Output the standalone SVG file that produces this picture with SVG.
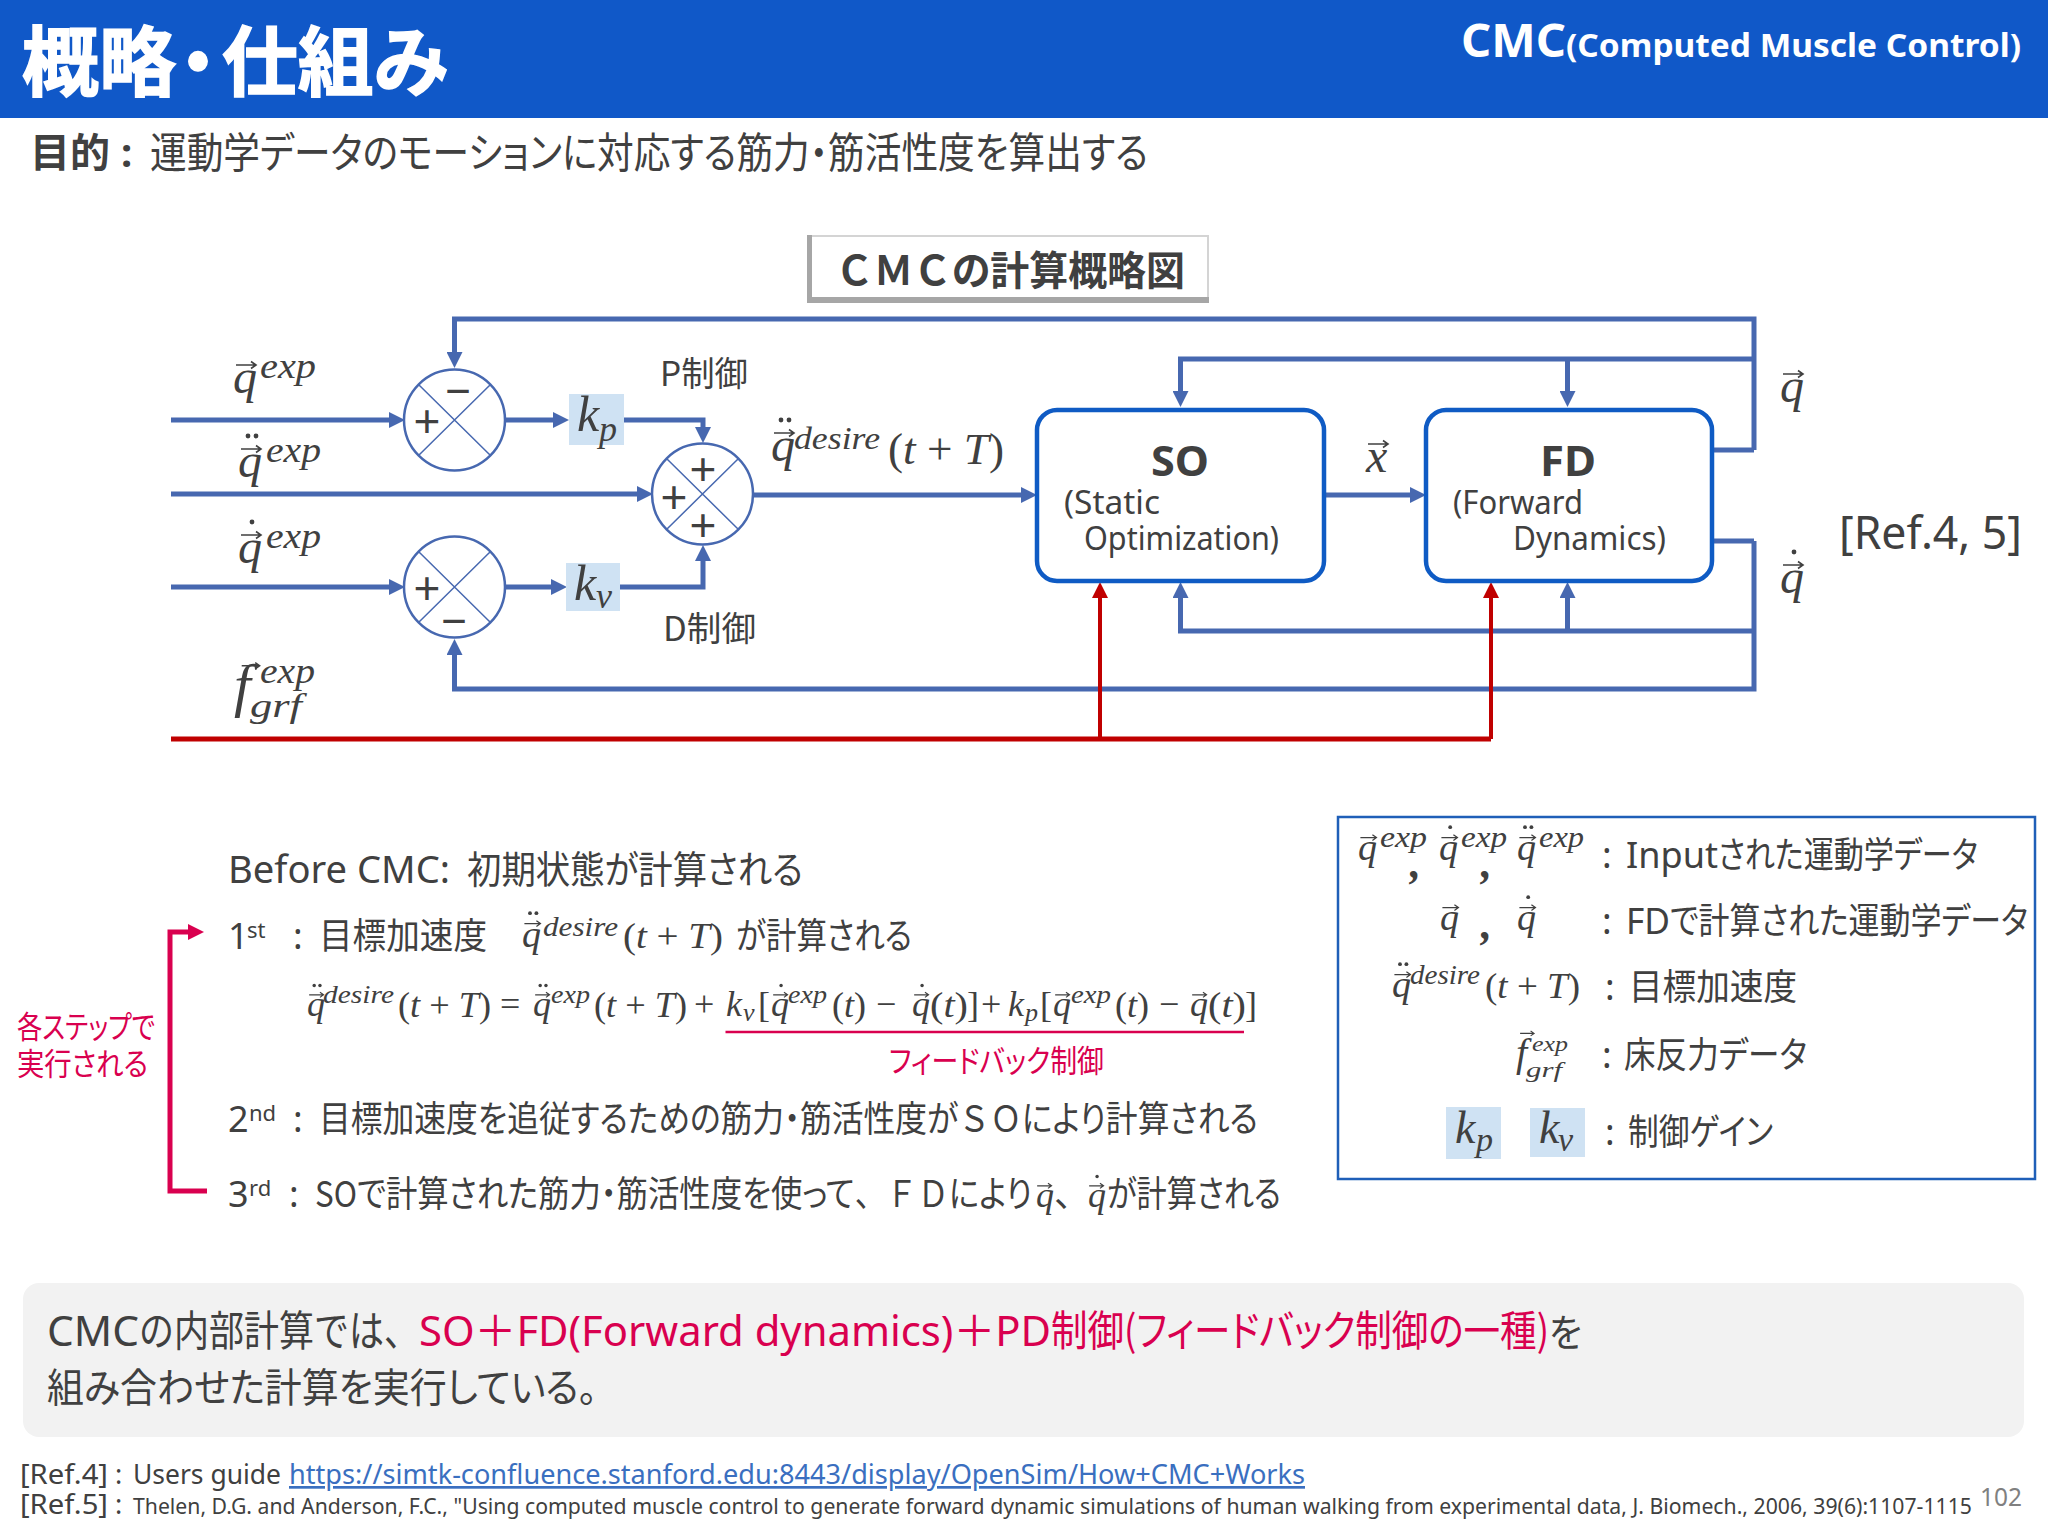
<svg xmlns="http://www.w3.org/2000/svg" width="2048" height="1536" viewBox="0 0 2048 1536">
<style>
text{fill:#404040;font-family:"Noto Sans","Noto Sans CJK JP",sans-serif;font-feature-settings:"palt"}
.j{font-family:"Noto Sans CJK JP","Noto Sans",sans-serif}
.n{font-feature-settings:normal}
.m{font-family:"Liberation Serif",serif;font-style:italic;fill:#404040}
.u{font-family:"Liberation Serif",serif;fill:#404040}
.w{fill:#fff;font-weight:700}
.p{fill:#d9004f}
.l{fill:none;stroke:#4768b0;stroke-width:5}
.la{fill:none;stroke:#4768b0;stroke-width:5;marker-end:url(#ab)}
.r{fill:none;stroke:#c00000;stroke-width:5}
.ra{fill:none;stroke:#c00000;stroke-width:4;marker-end:url(#ar)}
.c{fill:#fff;stroke:#4768b0;stroke-width:2.5}
.x{stroke:#4768b0;stroke-width:1.5}
.k{fill:#cfe2f3}
.b{fill:#fff;stroke:#0f5bc4;stroke-width:4.5}
.a{fill:none;stroke:#404040;stroke-width:1.6}
.o{font-family:"Liberation Sans",sans-serif;fill:#404040}
</style>
<defs>
<marker id="ab" markerUnits="userSpaceOnUse" viewBox="0 0 10 10" markerWidth="17" markerHeight="16" refX="5" refY="5" orient="auto"><path d="M0,0L10,5L0,10z" fill="#4768b0"/></marker>
<marker id="ar" markerUnits="userSpaceOnUse" viewBox="0 0 10 10" markerWidth="17" markerHeight="16" refX="5" refY="5" orient="auto"><path d="M0,0L10,5L0,10z" fill="#c00000"/></marker>
<marker id="ap" markerUnits="userSpaceOnUse" viewBox="0 0 10 10" markerWidth="16" markerHeight="20" refX="5" refY="5" orient="auto"><path d="M0,0L10,5L0,10z" fill="#d9004f"/></marker>
<path id="v" class="a" d="M3,-28H23M18,-31.5L23,-28L18,-24.5"/>
<g id="d1"><use href="#v"/><circle cx="14" cy="-41" r="2.4" fill="#404040"/></g>
<g id="d2"><use href="#v"/><circle cx="10" cy="-41" r="2.4" fill="#404040"/><circle cx="18" cy="-41" r="2.4" fill="#404040"/></g>
</defs>

<g id="header">
<rect width="2048" height="118" fill="#1058c8"/>
<text class="j w" x="22" y="90" font-size="76" textLength="154" lengthAdjust="spacingAndGlyphs" stroke="#fff" stroke-width="1.5">概略</text>
<text class="j w" x="180" y="90" font-size="76" textLength="36" lengthAdjust="spacingAndGlyphs" stroke="#fff" stroke-width="1.5">・</text>
<text class="j w" x="222" y="90" font-size="76" textLength="226" lengthAdjust="spacingAndGlyphs" stroke="#fff" stroke-width="1.5">仕組み</text>
<text class="w" x="1461" y="57" font-size="46" textLength="105" lengthAdjust="spacingAndGlyphs">CMC</text>
<text class="w" x="1566" y="57" font-size="33" textLength="455" lengthAdjust="spacingAndGlyphs">(Computed Muscle Control)</text>
</g>
<g id="purpose">
<text class="j" x="30" y="167" font-size="40" font-weight="700">目的</text>
<text x="121" y="167" font-size="40" font-weight="700">:</text>
<text class="j" x="150" y="168" font-size="42" textLength="998" lengthAdjust="spacingAndGlyphs">運動学データのモーションに対応する筋力・筋活性度を算出する</text>
</g>
<g id="diagram-title">
<rect x="808" y="236" width="400" height="66" fill="#fff" stroke="#d4d4d4" stroke-width="2"/>
<path d="M807,235H812V297H1209V303H807z" fill="#a6a6a6"/>
<text class="j" x="835" y="285" font-size="40" font-weight="700" textLength="350" lengthAdjust="spacingAndGlyphs"><tspan class="n">ＣＭＣ</tspan>の計算概略図</text>
</g>

<g id="connectors">
<path class="la" d="M171,420H397"/>
<path class="la" d="M171,494H645"/>
<path class="la" d="M171,587H397"/>
<path class="la" d="M505,420H561"/>
<path class="la" d="M505,587H559"/>
<path class="la" d="M624,420H703V435"/>
<path class="la" d="M620,587H703V553"/>
<path class="la" d="M753,495H1029"/>
<path class="la" d="M1324,495H1418"/>
<path class="la" d="M1754,450V319H454.500V360"/>
<path class="la" d="M1754,541V689H454.500V647"/>
<path class="la" d="M1754,359H1180.500V399"/>
<path class="la" d="M1567.500,359V399"/>
<path class="la" d="M1754,631H1180.500V590"/>
<path class="la" d="M1567.500,631V590"/>
<path class="l" d="M1704,450H1754M1704,541H1754"/>
<path class="r" d="M171,739H1491"/>
<path class="ra" d="M1100,739V590"/>
<path class="ra" d="M1491,739V590"/>
</g>

<g id="sum-p">
<circle class="c" cx="454.500" cy="420" r="50.500"/><path class="x" d="M419,385L490,455M490,385L419,455"/>
<text class="o" x="427" y="437" font-size="46" text-anchor="middle">+</text><text class="o" x="458" y="406" font-size="44" text-anchor="middle">−</text>
</g>
<g id="sum-all">
<circle class="c" cx="702.500" cy="494" r="50.500"/><path class="x" d="M667,459L738,529M738,459L667,529"/>
<text class="o" x="703" y="485" font-size="46" text-anchor="middle">+</text><text class="o" x="674" y="513" font-size="46" text-anchor="middle">+</text><text class="o" x="703" y="541" font-size="46" text-anchor="middle">+</text>
</g>
<g id="sum-d">
<circle class="c" cx="454.500" cy="587" r="50.500"/><path class="x" d="M419,552L490,622M490,552L419,622"/>
<text class="o" x="427" y="604" font-size="46" text-anchor="middle">+</text><text class="o" x="454" y="636" font-size="44" text-anchor="middle">−</text>
</g>
<g id="gain-p"><rect class="k" x="569" y="394" width="55" height="51"/><text class="m" x="577" y="431" font-size="50">k</text><text class="m" x="599" y="441" font-size="36">p</text></g>
<g id="gain-v"><rect class="k" x="566" y="563" width="54" height="48"/><text class="m" x="574" y="600" font-size="50">k</text><text class="m" x="596" y="608" font-size="36">v</text></g>
<g id="so">
<rect class="b" x="1037" y="410" width="287" height="171" rx="20"/>
<text x="1180" y="476" font-size="42" font-weight="700" text-anchor="middle" textLength="58" lengthAdjust="spacingAndGlyphs">SO</text>
<text x="1064" y="514" font-size="32" textLength="96" lengthAdjust="spacingAndGlyphs">(Static</text>
<text x="1084" y="550" font-size="32" textLength="195" lengthAdjust="spacingAndGlyphs">Optimization)</text>
</g>
<g id="fd">
<rect class="b" x="1426" y="410" width="286" height="171" rx="20"/>
<text x="1568" y="476" font-size="42" font-weight="700" text-anchor="middle" textLength="56" lengthAdjust="spacingAndGlyphs">FD</text>
<text x="1453" y="514" font-size="32" textLength="130" lengthAdjust="spacingAndGlyphs">(Forward</text>
<text x="1513" y="550" font-size="32" textLength="153" lengthAdjust="spacingAndGlyphs">Dynamics)</text>
</g>

<g id="diagram-labels">
<text class="m" x="233" y="393" font-size="48">q</text><use href="#v" transform="translate(233,393)"/><text class="m" x="260" y="378" font-size="36" textLength="56" lengthAdjust="spacingAndGlyphs">exp</text>
<text class="m" x="238" y="477" font-size="48">q</text><use href="#d2" transform="translate(238,477)"/><text class="m" x="266" y="462" font-size="36" textLength="55" lengthAdjust="spacingAndGlyphs">exp</text>
<text class="m" x="238" y="563" font-size="48">q</text><use href="#d1" transform="translate(238,563)"/><text class="m" x="266" y="548" font-size="36" textLength="55" lengthAdjust="spacingAndGlyphs">exp</text>
<text class="m" x="234" y="705" font-size="60">f</text><use href="#v" transform="translate(239,691) scale(.9)"/><text class="m" x="260" y="683" font-size="36" textLength="55" lengthAdjust="spacingAndGlyphs">exp</text><text class="m" x="250" y="717" font-size="34" textLength="52" lengthAdjust="spacingAndGlyphs">grf</text>
<text class="j" x="660" y="386" font-size="34" textLength="88" lengthAdjust="spacingAndGlyphs">P制御</text>
<text class="j" x="663" y="641" font-size="34" textLength="93" lengthAdjust="spacingAndGlyphs">D制御</text>
<text class="m" x="771" y="461" font-size="48">q</text><use href="#d2" transform="translate(771,461)"/><text class="m" x="794" y="449" font-size="32" textLength="86" lengthAdjust="spacingAndGlyphs">desire</text>
<text class="u" x="888" y="464" font-size="44" textLength="116" lengthAdjust="spacingAndGlyphs">(<tspan class="m">t</tspan> + <tspan class="m">T</tspan>)</text>
<text class="m" x="1366" y="472" font-size="48">x</text><use href="#v" transform="translate(1365,472)"/>
<text class="m" x="1780" y="402" font-size="48">q</text><use href="#v" transform="translate(1780,402)"/>
<text class="m" x="1780" y="593" font-size="48">q</text><use href="#d1" transform="translate(1780,593)"/>
<text x="1839" y="549" font-size="46" textLength="183" lengthAdjust="spacingAndGlyphs">[Ref.4, 5]</text>
</g>

<g id="steps">
<text x="228" y="883" font-size="38" textLength="222" lengthAdjust="spacingAndGlyphs">Before CMC:</text>
<text class="j" x="467" y="883" font-size="38" textLength="336" lengthAdjust="spacingAndGlyphs">初期状態が計算される</text>
<text x="228" y="949" font-size="36">1</text><text x="247" y="938" font-size="22">st</text>
<text x="293" y="949" font-size="36">:</text>
<text class="j" x="319" y="949" font-size="36" textLength="168" lengthAdjust="spacingAndGlyphs">目標加速度</text>
<text class="m" x="522" y="947" font-size="38">q</text><use href="#d2" transform="translate(522,946) scale(.8)"/><text class="m" x="543" y="936" font-size="28" textLength="75" lengthAdjust="spacingAndGlyphs">desire</text>
<text class="u" x="623" y="948" font-size="36" textLength="100" lengthAdjust="spacingAndGlyphs">(<tspan class="m">t</tspan> + <tspan class="m">T</tspan>)</text>
<text class="j" x="736" y="949" font-size="36" textLength="176" lengthAdjust="spacingAndGlyphs">が計算される</text>

<text class="m" x="307" y="1016" font-size="36">q</text><use href="#d2" transform="translate(307,1015) scale(.72)"/><text class="m" x="323" y="1003" font-size="26" textLength="71" lengthAdjust="spacingAndGlyphs">desire</text>
<text class="u" x="398" y="1017" font-size="36" textLength="93" lengthAdjust="spacingAndGlyphs">(<tspan class="m">t</tspan> + <tspan class="m">T</tspan>)</text>
<text class="u" x="500" y="1016" font-size="36">=</text>
<text class="m" x="533" y="1016" font-size="36">q</text><use href="#d2" transform="translate(533,1015) scale(.72)"/><text class="m" x="551" y="1003" font-size="26" textLength="39" lengthAdjust="spacingAndGlyphs">exp</text>
<text class="u" x="594" y="1017" font-size="36" textLength="93" lengthAdjust="spacingAndGlyphs">(<tspan class="m">t</tspan> + <tspan class="m">T</tspan>)</text>
<text class="u" x="694" y="1016" font-size="36">+</text>
<text class="m" x="726" y="1016" font-size="36">k</text><text class="m" x="743" y="1021" font-size="26">v</text>
<text class="u" x="758" y="1017" font-size="36">[</text>
<text class="m" x="771" y="1016" font-size="36">q</text><use href="#d1" transform="translate(771,1015) scale(.72)"/><text class="m" x="788" y="1003" font-size="26" textLength="39" lengthAdjust="spacingAndGlyphs">exp</text>
<text class="u" x="832" y="1017" font-size="36" textLength="34" lengthAdjust="spacingAndGlyphs">(<tspan class="m">t</tspan>)</text>
<text class="u" x="876" y="1016" font-size="36">−</text>
<text class="m" x="912" y="1016" font-size="36">q</text><use href="#d1" transform="translate(912,1015) scale(.72)"/>
<text class="u" x="930" y="1017" font-size="36" textLength="38" lengthAdjust="spacingAndGlyphs">(<tspan class="m">t</tspan>)</text>
<text class="u" x="967" y="1017" font-size="36">]</text><text class="u" x="981" y="1016" font-size="36">+</text>
<text class="m" x="1008" y="1016" font-size="36">k</text><text class="m" x="1025" y="1021" font-size="26">p</text>
<text class="u" x="1040" y="1017" font-size="36">[</text>
<text class="m" x="1053" y="1016" font-size="36">q</text><use href="#v" transform="translate(1053,1015) scale(.72)"/><text class="m" x="1071" y="1003" font-size="26" textLength="40" lengthAdjust="spacingAndGlyphs">exp</text>
<text class="u" x="1115" y="1017" font-size="36" textLength="34" lengthAdjust="spacingAndGlyphs">(<tspan class="m">t</tspan>)</text>
<text class="u" x="1159" y="1016" font-size="36">−</text>
<text class="m" x="1190" y="1016" font-size="36">q</text><use href="#v" transform="translate(1190,1015) scale(.72)"/>
<text class="u" x="1208" y="1017" font-size="36" textLength="38" lengthAdjust="spacingAndGlyphs">(<tspan class="m">t</tspan>)</text>
<text class="u" x="1245" y="1017" font-size="36">]</text>
<path d="M725.500,1032H1244" fill="none" stroke="#d9004f" stroke-width="2.500"/>
<text class="j p" x="889" y="1072" font-size="31" textLength="215" lengthAdjust="spacingAndGlyphs">フィードバック制御</text>

<text x="228" y="1132" font-size="36">2</text><text x="249" y="1121" font-size="22">nd</text>
<text x="293" y="1132" font-size="36">:</text>
<text class="j" x="319" y="1132" font-size="36" textLength="939" lengthAdjust="spacingAndGlyphs">目標加速度を追従するための筋力・筋活性度が<tspan class="n">ＳＯ</tspan>により計算される</text>

<text x="228" y="1207" font-size="36">3</text><text x="249" y="1196" font-size="22">rd</text>
<text x="289" y="1207" font-size="36">:</text>
<text class="j" x="315" y="1207" font-size="36" textLength="717" lengthAdjust="spacingAndGlyphs">SOで計算された筋力・筋活性度を使って<tspan class="n">、ＦＤ</tspan>により</text>
<text class="m" x="1036" y="1207" font-size="36">q</text><use href="#v" transform="translate(1035,1206) scale(.72)"/>
<text class="j n" x="1054" y="1207" font-size="36">、</text>
<text class="m" x="1088" y="1207" font-size="36">q</text><use href="#d1" transform="translate(1087,1206) scale(.72)"/>
<text class="j" x="1107" y="1207" font-size="36" textLength="174" lengthAdjust="spacingAndGlyphs">が計算される</text>
</g>
<g id="loop-bracket">
<path d="M207,1191H170V932H196" fill="none" stroke="#d9004f" stroke-width="5" marker-end="url(#ap)"/>
<text class="j p" x="17" y="1038" font-size="31" textLength="138" lengthAdjust="spacingAndGlyphs">各ステップで</text>
<text class="j p" x="17" y="1075" font-size="31" textLength="131" lengthAdjust="spacingAndGlyphs">実行される</text>
</g>

<g id="legend">
<rect x="1338" y="817" width="697" height="362" fill="#fff" stroke="#1f5fb8" stroke-width="2.500"/>
<text class="m" x="1358" y="860" font-size="38">q</text><use href="#v" transform="translate(1358,860) scale(.8)"/><text class="m" x="1380" y="847" font-size="30" textLength="47" lengthAdjust="spacingAndGlyphs">exp</text>
<text class="m" x="1410" y="878" font-size="44" font-weight="700">,</text>
<text class="m" x="1439" y="860" font-size="38">q</text><use href="#d1" transform="translate(1439,860) scale(.8)"/><text class="m" x="1461" y="847" font-size="30" textLength="46" lengthAdjust="spacingAndGlyphs">exp</text>
<text class="m" x="1481" y="878" font-size="44" font-weight="700">,</text>
<text class="m" x="1517" y="860" font-size="38">q</text><use href="#d2" transform="translate(1517,860) scale(.8)"/><text class="m" x="1539" y="847" font-size="30" textLength="45" lengthAdjust="spacingAndGlyphs">exp</text>
<text x="1602" y="868" font-size="36">:</text>
<text x="1626" y="868" font-size="36" textLength="92" lengthAdjust="spacingAndGlyphs">Input</text>
<text class="j" x="1718" y="868" font-size="36" textLength="260" lengthAdjust="spacingAndGlyphs">された運動学データ</text>

<text class="m" x="1440" y="930" font-size="38">q</text><use href="#v" transform="translate(1440,930) scale(.8)"/>
<text class="m" x="1481" y="939" font-size="44" font-weight="700">,</text>
<text class="m" x="1517" y="930" font-size="38">q</text><use href="#d1" transform="translate(1517,930) scale(.8)"/>
<text x="1602" y="934" font-size="36">:</text>
<text x="1626" y="934" font-size="36" textLength="44" lengthAdjust="spacingAndGlyphs">FD</text>
<text class="j" x="1670" y="934" font-size="36" textLength="358" lengthAdjust="spacingAndGlyphs">で計算された運動学データ</text>

<text class="m" x="1392" y="997" font-size="38">q</text><use href="#d2" transform="translate(1392,997) scale(.8)"/><text class="m" x="1410" y="984" font-size="28" textLength="70" lengthAdjust="spacingAndGlyphs">desire</text>
<text class="u" x="1485" y="998" font-size="36" textLength="95" lengthAdjust="spacingAndGlyphs">(<tspan class="m">t</tspan> + <tspan class="m">T</tspan>)</text>
<text x="1605" y="1000" font-size="36">:</text>
<text class="j" x="1629" y="1000" font-size="36" textLength="168" lengthAdjust="spacingAndGlyphs">目標加速度</text>

<text class="m" x="1516" y="1066" font-size="40">f</text><use href="#v" transform="translate(1518,1053) scale(.7)"/><text class="m" x="1532" y="1051" font-size="22" textLength="36" lengthAdjust="spacingAndGlyphs">exp</text><text class="m" x="1526" y="1077" font-size="22" textLength="36" lengthAdjust="spacingAndGlyphs">grf</text>
<text x="1602" y="1068" font-size="36">:</text>
<text class="j" x="1624" y="1068" font-size="36" textLength="183" lengthAdjust="spacingAndGlyphs">床反力データ</text>

<rect class="k" x="1446" y="1107" width="55" height="52"/><text class="m" x="1455" y="1143" font-size="46">k</text><text class="m" x="1476" y="1151" font-size="34">p</text>
<rect class="k" x="1530" y="1108" width="55" height="49"/><text class="m" x="1539" y="1143" font-size="46">k</text><text class="m" x="1558" y="1151" font-size="34">v</text>
<text x="1605" y="1145" font-size="36">:</text>
<text class="j" x="1628" y="1145" font-size="36" textLength="145" lengthAdjust="spacingAndGlyphs">制御ゲイン</text>
</g>

<g id="summary">
<rect x="23" y="1283" width="2001" height="154" rx="16" fill="#f2f2f2"/>
<text x="47" y="1346" font-size="42" textLength="92" lengthAdjust="spacingAndGlyphs">CMC</text>
<text class="j n" x="139" y="1346" font-size="42" textLength="280" lengthAdjust="spacingAndGlyphs">の内部計算では、</text>
<text class="p" x="419" y="1346" font-size="42" textLength="632" lengthAdjust="spacingAndGlyphs">SO＋FD(Forward dynamics)＋PD</text>
<text class="j p" x="1051" y="1346" font-size="42" textLength="498" lengthAdjust="spacingAndGlyphs">制御(フィードバック制御の一種)</text>
<text class="j" x="1549" y="1346" font-size="38" textLength="33" lengthAdjust="spacingAndGlyphs">を</text>
<text class="j" x="47" y="1402" font-size="40" textLength="550" lengthAdjust="spacingAndGlyphs">組み合わせた計算を実行している。</text>
</g>
<g id="refs">
<text x="20" y="1484" font-size="27" textLength="88" lengthAdjust="spacingAndGlyphs">[Ref.4]</text>
<text x="115" y="1484" font-size="27">:</text>
<text x="133" y="1484" font-size="27" textLength="148" lengthAdjust="spacingAndGlyphs">Users guide</text>
<text x="289" y="1484" font-size="27" textLength="1016" lengthAdjust="spacingAndGlyphs" text-decoration="underline" style="fill:#3a6fc0">https://simtk-confluence.stanford.edu:8443/display/OpenSim/How+CMC+Works</text>
<text x="20" y="1514" font-size="27" textLength="88" lengthAdjust="spacingAndGlyphs">[Ref.5]</text>
<text x="115" y="1514" font-size="27">:</text>
<text x="133" y="1514" font-size="21" textLength="1839" lengthAdjust="spacingAndGlyphs">Thelen, D.G. and Anderson, F.C., "Using computed muscle control to generate forward dynamic simulations of human walking from experimental data, J. Biomech., 2006, 39(6):1107-1115</text>
<text x="1980" y="1506" font-size="26" textLength="42" lengthAdjust="spacingAndGlyphs" style="fill:#808080">102</text>
</g>
</svg>
